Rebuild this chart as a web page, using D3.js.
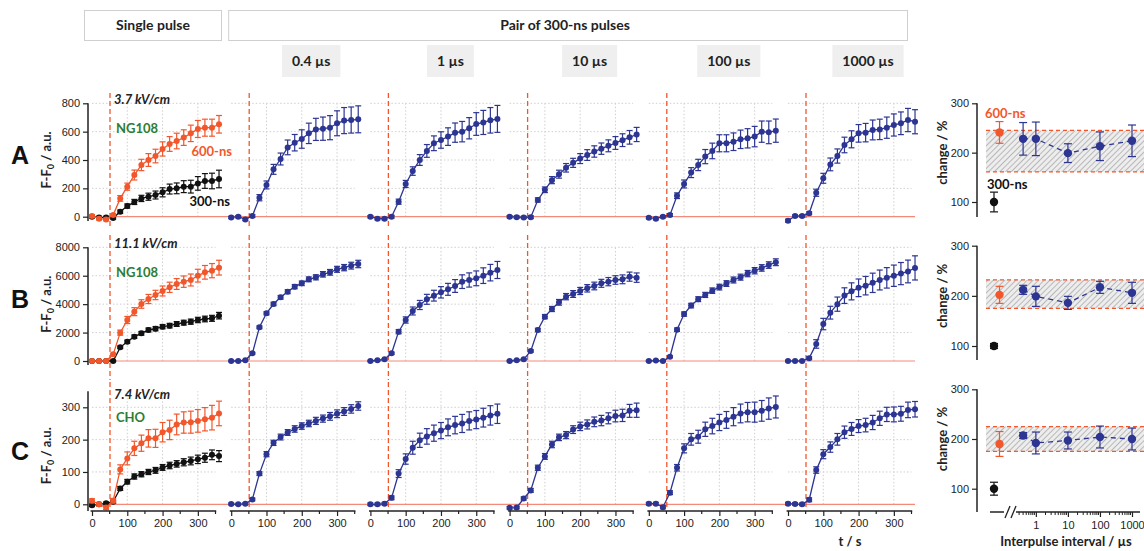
<!DOCTYPE html>
<html>
<head>
<meta charset="utf-8">
<script src="https://cdnjs.cloudflare.com/ajax/libs/d3/7.8.5/d3.min.js"></script>
<style>
  body { margin: 0; background: #fff; }
  svg { display: block; }
  .tick text { font-family: "Liberation Sans", Arial, sans-serif; font-size: 11px; fill: #222; }
</style>
</head>
<body>
<div id="chart"></div>
<script>
var width = 1144, height = 551;

// ---- data ----
var times = [0,20,40,60,80,100,120,140,160,180,200,220,240,260,280,300,320,340,360];
var intervalNames = ["0.4 µs","1 µs","10 µs","100 µs","1000 µs"];
var intervalValues = [0.4,1,10,100,1000];
var singleNames = ["300-ns","600-ns"];

// row A : NG108, 3.7 kV/cm
var a300 = [0,-5,-5,-9,35,75,104,129,141,153,172,195,200,212,212,235,252,252,266];
var a300Err = [8,8,8,8,12,15,18,22,25,28,32,35,38,42,45,48,52,55,62];
var a600 = [5,-14,-19,12,129,212,294,365,400,428,478,513,534,558,588,619,628,628,652];
var a600Err = [10,10,10,10,20,25,35,40,45,48,50,52,55,55,58,60,60,60,62];
var aPairs = [
  [-5,0,-19,5,134,224,334,407,489,522,548,588,616,621,628,659,678,682,687],
  [0,-14,-14,0,106,231,322,400,464,518,541,565,593,600,624,654,665,680,690],
  [0,-3,-5,-3,118,190,258,300,345,380,410,435,460,480,500,520,540,560,580],
  [-7,-14,0,12,148,231,311,365,424,464,518,518,529,546,553,565,600,595,607],
  [-28,5,5,24,169,271,369,428,506,546,588,593,612,616,628,647,659,682,670]
];
var aPairsErr = [
  [8,8,8,10,22,28,35,42,52,58,65,72,78,82,85,88,92,92,95],
  [8,8,8,10,18,25,30,38,45,52,58,62,68,72,75,80,85,90,95],
  [8,8,8,10,15,20,25,28,30,32,35,38,40,40,42,45,45,48,50],
  [8,8,8,10,20,28,35,40,50,55,60,60,62,65,68,72,75,80,82],
  [10,8,8,10,25,35,45,50,55,60,62,65,70,72,75,78,80,82,85]
];
var aSingle = [100,241], aSingleErr = [20,22];
var aChange = [228,228,199,213,224], aChangeErr = [33,34,19,29,32];
var aBand = [161,245];

// row B : NG108, 11.1 kV/cm
var b300 = [0,0,0,0,962,1360,1712,1947,2182,2275,2416,2487,2604,2698,2768,2885,2956,3003,3190];
var b300Err = [50,50,50,50,90,110,120,130,140,150,150,160,170,170,180,190,200,210,230];
var b600 = [0,0,0,469,1994,2885,3472,4011,4363,4645,4926,5184,5419,5583,5700,6005,6240,6357,6568];
var b600Err = [60,60,60,80,180,250,280,300,320,330,350,360,380,400,420,450,480,500,520];
var bPairs = [
  [0,0,47,540,2369,3354,4011,4480,4879,5231,5466,5747,5888,6099,6240,6451,6568,6709,6826],
  [0,47,117,540,2064,2885,3519,3941,4340,4598,4832,5043,5278,5583,5700,5817,6005,6216,6404],
  [0,47,117,704,2182,3120,3659,4129,4527,4715,4926,5114,5278,5466,5583,5700,5747,5935,5865],
  [0,30,0,300,2200,3300,3900,4350,4650,4950,5200,5450,5700,5900,6150,6350,6550,6750,6950],
  [0,0,0,200,1200,2600,3400,4000,4600,4900,5150,5300,5500,5700,5850,6000,6150,6300,6550]
];
var bPairsErr = [
  [50,50,50,60,100,110,120,130,140,150,160,170,180,190,200,210,220,240,260],
  [50,50,50,80,150,220,280,320,350,380,400,420,450,480,500,520,550,580,600],
  [50,50,50,80,120,150,180,200,220,240,250,260,270,280,290,300,310,320,330],
  [50,50,50,60,120,150,160,170,180,190,200,200,210,210,220,220,230,230,240],
  [50,50,50,100,300,400,450,500,550,600,620,650,680,700,720,750,780,800,850]
];
var bSingle = [100,202], bSingleErr = [5,17];
var bChange = [212,199,186,217,206], bChangeErr = [9,20,13,12,21];
var bBand = [175,232];

// row C : CHO, 7.4 kV/cm
var c300 = [-3,0,3,8,49,70,86,93,100,105,114,120,125,130,134,139,144,153,149];
var c300Err = [4,4,4,5,6,7,8,8,8,9,9,10,10,11,12,13,14,15,17];
var c600 = [11,0,-10,11,108,142,173,189,204,204,223,230,247,253,254,258,263,268,281];
var c600Err = [6,6,6,7,14,20,22,25,27,28,30,30,32,33,34,35,36,38,38];
var cPairs = [
  [1,0,2,15,95,155,190,208,222,233,242,250,258,265,272,280,287,295,304],
  [0,0,2,20,95,140,175,198,210,220,228,238,245,250,258,262,268,275,280],
  [-11,-10,18,43,113,148,185,207,214,231,241,247,255,259,266,273,275,289,291],
  [2,2,-9,36,113,173,201,209,232,242,253,261,271,281,285,285,289,296,301],
  [2,1,0,14,106,155,177,201,223,233,242,245,253,266,278,278,280,292,294]
];
var cPairsErr = [
  [3,3,3,4,6,8,8,9,9,10,10,10,11,11,12,12,12,13,13],
  [4,4,4,6,12,16,20,22,24,25,25,26,27,28,28,28,29,30,30],
  [4,4,5,6,8,9,10,10,11,12,13,14,15,16,17,18,19,20,22],
  [4,4,5,6,10,14,18,20,22,24,25,26,28,29,30,31,32,33,34],
  [4,4,4,6,10,14,16,18,19,20,20,21,22,22,22,23,23,24,24]
];
var cSingle = [100,190], cSingleErr = [13,25];
var cChange = [207,192,197,204,200], cChangeErr = [6,22,17,22,22];
var cBand = [175,225];

var pulseTime = 51;

// ---- colours ----
var orange = "#f2572b", blue = "#2c3592", black = "#111", green = "#2f7d32";
var zeroRed = "#f4897a";
var labelFont = "Lato, 'Open Sans', sans-serif";

var rows = [
  { name: "A", field: "3.7 kV/cm", cell: "NG108", yMax: 800, yTop: 800, yTicks: [0,200,400,600,800],
    s300: a300, e300: a300Err, s600: a600, e600: a600Err, pairs: aPairs, pairsErr: aPairsErr,
    single: aSingle, singleErr: aSingleErr, change: aChange, changeErr: aChangeErr, band: aBand,
    zero: 216.7, top: 103.3, axisBottom: 221, dashTop: 93, dashBottom: 228,
    r100: 202, r300: 103.3, rBottom: 217 },
  { name: "B", field: "11.1 kV/cm", cell: "NG108", yMax: 8000, yTop: 8000, yTicks: [0,2000,4000,6000,8000],
    s300: b300, e300: b300Err, s600: b600, e600: b600Err, pairs: bPairs, pairsErr: bPairsErr,
    single: bSingle, singleErr: bSingleErr, change: bChange, changeErr: bChangeErr, band: bBand,
    zero: 361, top: 247.3, axisBottom: 365, dashTop: 235, dashBottom: 380,
    r100: 346, r300: 245.7, rBottom: 360 },
  { name: "C", field: "7.4 kV/cm", cell: "CHO", yMax: 300, yTop: 350, yTicks: [0,100,200,300],
    s300: c300, e300: c300Err, s600: c600, e600: c600Err, pairs: cPairs, pairsErr: cPairsErr,
    single: cSingle, singleErr: cSingleErr, change: cChange, changeErr: cChangeErr, band: cBand,
    zero: 504.3, top: 407.3, axisBottom: 511, dashTop: 382, dashBottom: 509,
    r100: 488.7, r300: 389.3, rBottom: 512 }
];

// column positions (t = 0 of each small panel)
var colScale = d3.scaleLinear().domain([0,5]).range([92,788]);
var panelW = 123.5; // 0..350 s

var svg = d3.select("#chart").append("svg")
    .attr("width", width)
    .attr("height", height)
    .style("font-family", labelFont);

var defs = svg.append("defs");
var pat = defs.append("pattern")
    .attr("id", "hatch")
    .attr("patternUnits", "userSpaceOnUse")
    .attr("width", 4).attr("height", 4)
    .attr("patternTransform", "rotate(45)");
pat.append("rect").attr("width", 4).attr("height", 4).attr("fill", "#ededed");
pat.append("line").attr("x1", 0).attr("y1", 0).attr("x2", 0).attr("y2", 4)
    .attr("stroke", "#8c8c8c").attr("stroke-width", 1.1);

// ---- headers ----
var head = svg.append("g");
head.append("rect")
    .attr("x", colScale(0) - 7.5).attr("y", 10.5)
    .attr("width", 137).attr("height", 30)
    .attr("fill", "#fff").attr("stroke", "#cfcfcf");
head.append("text")
    .attr("x", colScale(0) + 61).attr("y", 30)
    .attr("text-anchor", "middle")
    .attr("font-weight", "bold").attr("font-size", 14).attr("fill", "#222")
    .text("Single pulse");
head.append("rect")
    .attr("x", colScale(1) - 2.5).attr("y", 10.5)
    .attr("width", colScale(5) + 122 - colScale(1)).attr("height", 30)
    .attr("fill", "#fff").attr("stroke", "#cfcfcf");
head.append("text")
    .attr("x", 565).attr("y", 30)
    .attr("text-anchor", "middle")
    .attr("font-weight", "bold").attr("font-size", 14).attr("fill", "#222")
    .text("Pair of 300-ns pulses");

intervalNames.forEach(function (name, i) {
  var cx = colScale(i + 1) + 80;
  var gg = head.append("g");
  var txt = gg.append("text")
      .attr("x", cx).attr("y", 66)
      .attr("text-anchor", "middle")
      .attr("font-weight", "bold").attr("font-size", 14).attr("fill", "#222")
      .text(name);
  var w = txt.node().getComputedTextLength() + 20;
  gg.insert("rect", "text")
      .attr("x", cx - w / 2).attr("y", 45)
      .attr("width", w).attr("height", 32)
      .attr("fill", "#efefef");
});

// ---- helpers ----
function drawSeries(g, x, y, xs, vals, errs, color, r, cap, dashed) {
  var pts = xs.map(function (t, i) { return { t: t, v: vals[i], e: errs[i] }; });
  g.append("path").datum(pts)
      .attr("fill", "none")
      .attr("stroke", color)
      .attr("stroke-width", 1.3)
      .attr("stroke-dasharray", dashed ? "5,4" : null)
      .attr("d", d3.line().x(function (d) { return x(d.t); }).y(function (d) { return y(d.v); }));
  var eb = g.append("g").attr("stroke", color).attr("stroke-width", 1.2);
  eb.selectAll(".v").data(pts).enter().append("line")
      .attr("x1", function (d) { return x(d.t); })
      .attr("x2", function (d) { return x(d.t); })
      .attr("y1", function (d) { return y(d.v - d.e); })
      .attr("y2", function (d) { return y(d.v + d.e); });
  [-1, 1].forEach(function (s) {
    eb.selectAll(".c" + (s + 1)).data(pts).enter().append("line")
        .attr("x1", function (d) { return x(d.t) - cap; })
        .attr("x2", function (d) { return x(d.t) + cap; })
        .attr("y1", function (d) { return y(d.v + s * d.e); })
        .attr("y2", function (d) { return y(d.v + s * d.e); });
  });
  g.append("g").selectAll("circle").data(pts).enter().append("circle")
      .attr("cx", function (d) { return x(d.t); })
      .attr("cy", function (d) { return y(d.v); })
      .attr("r", r)
      .attr("fill", color);
}

function boldText(g, x, y, txt, color, size, anchor, italic) {
  return g.append("text")
      .attr("x", x).attr("y", y)
      .attr("text-anchor", anchor || "start")
      .attr("font-weight", "bold")
      .attr("font-style", italic ? "italic" : null)
      .attr("font-size", size)
      .attr("fill", color)
      .text(txt);
}

// ---- rows ----
rows.forEach(function (row, ri) {
  var g = svg.append("g").attr("class", "row-" + row.name);
  var y = d3.scaleLinear().domain([0, row.yMax]).range([row.zero, row.top]);

  // grid + dashed pulse line for each small panel
  for (var c = 0; c < 6; c++) {
    var x = d3.scaleLinear().domain([0, 350]).range([colScale(c), colScale(c) + panelW]);
    var grid = g.append("g").attr("stroke", "#cfcfcf").attr("stroke-width", 1).attr("stroke-dasharray", "1.5,2");
    grid.selectAll(".h").data(row.yTicks.filter(function (v) { return v > 0; })).enter().append("line")
        .attr("x1", x(0)).attr("x2", x(350))
        .attr("y1", function (d) { return y(d); }).attr("y2", function (d) { return y(d); });
    grid.selectAll(".vv").data([100, 200, 300]).enter().append("line")
        .attr("x1", function (d) { return x(d); }).attr("x2", function (d) { return x(d); })
        .attr("y1", y(0)).attr("y2", y(row.yTop));
  }

  // red zero line through all panels
  var xFirst = d3.scaleLinear().domain([0, 350]).range([colScale(0), colScale(0) + panelW]);
  var xLast = d3.scaleLinear().domain([0, 350]).range([colScale(5), colScale(5) + panelW]);
  g.append("line")
      .attr("x1", xFirst(pulseTime)).attr("x2", xLast(360))
      .attr("y1", y(0)).attr("y2", y(0))
      .attr("stroke", zeroRed).attr("stroke-width", 1.2);

  for (var c2 = 0; c2 < 6; c2++) {
    var xx = d3.scaleLinear().domain([0, 350]).range([colScale(c2), colScale(c2) + panelW]);
    g.append("line")
        .attr("x1", xx(pulseTime)).attr("x2", xx(pulseTime))
        .attr("y1", row.dashTop).attr("y2", row.dashBottom)
        .attr("stroke", orange).attr("stroke-width", 1.3)
        .attr("stroke-dasharray", "5,3");

    if (c2 === 0) {
      drawSeries(g, xx, y, times, row.s300, row.e300, black, 3, 3);
      drawSeries(g, xx, y, times, row.s600, row.e600, orange, 3, 3);
    } else {
      drawSeries(g, xx, y, times, row.pairs[c2 - 1], row.pairsErr[c2 - 1], blue, 3, 3);
    }

    // bottom time axis only on the last row
    if (ri === 2) {
      var ax = g.append("g")
          .attr("transform", "translate(0," + row.axisBottom + ")")
          .call(d3.axisBottom(xx).tickValues([0, 100, 200, 300]).tickSize(5).tickPadding(3).tickSizeOuter(0));
      ax.select(".domain").remove();
      ax.selectAll(".tick line").attr("stroke", "#222").attr("stroke-width", 1.2);
      ax.append("line")
          .attr("x1", xx(-4)).attr("x2", xx(352))
          .attr("stroke", "#222").attr("stroke-width", 1.5);
      ax.selectAll(".minor").data([50, 150, 250, 350]).enter().append("line")
          .attr("x1", function (d) { return xx(d); }).attr("x2", function (d) { return xx(d); })
          .attr("y1", 0).attr("y2", 3)
          .attr("stroke", "#222").attr("stroke-width", 1.2);
    }
  }

  // left y-axis
  var ya = g.append("g")
      .attr("transform", "translate(" + (colScale(0) - 4) + ",0)")
      .call(d3.axisLeft(y).tickValues(row.yTicks).tickFormat(d3.format("d"))
          .tickSize(5).tickPadding(3).tickSizeOuter(0));
  ya.select(".domain").remove();
  ya.selectAll(".tick line").attr("stroke", "#222").attr("stroke-width", 1.2);
  ya.append("line")
      .attr("y1", y(row.yTop)).attr("y2", row.axisBottom)
      .attr("stroke", "#222").attr("stroke-width", 1.5);

  // y-axis title F-F0 / a.u.
  var yl = g.append("text")
      .attr("transform", "translate(51," + (row.zero + row.top) / 2 + ") rotate(-90)")
      .attr("text-anchor", "middle")
      .attr("font-weight", "bold").attr("font-size", 13).attr("fill", "#222");
  yl.append("tspan").text("F-F");
  yl.append("tspan").attr("font-size", 9).attr("dy", 3).text("0");
  yl.append("tspan").attr("dy", -3).text(" / a.u.");

  // row letter
  g.append("text")
      .attr("x", 20).attr("y", (row.zero + row.top) / 2 + 4)
      .attr("text-anchor", "middle")
      .attr("font-family", "'Liberation Sans', Arial, sans-serif")
      .attr("font-weight", "bold").attr("font-size", 25).attr("fill", "#111")
      .text(row.name);

  // annotations
  boldText(g, 114, row.top + (ri === 2 ? -8 : 1), row.field, "#222", 13, "start", true);
  boldText(g, 116, row.top + (ri === 2 ? 15 : 30), row.cell, green, 13, "start");
  if (ri === 0) {
    boldText(g, 232, 156, "600-ns", orange, 13, "end");
    boldText(g, 230, 206, "300-ns", black, 13, "end");
  }

  // ---- right panel: change / % ----
  var ry = d3.scaleLinear().domain([100, 300]).range([row.r100, row.r300]);
  var rx = d3.scaleLog().domain([0.24, 1000]).range([1016, 1132]);
  var sx = d3.scalePoint().domain(singleNames).range([994, 999.5]);

  g.append("rect")
      .attr("x", 986).attr("width", width - 986)
      .attr("y", ry(row.band[1])).attr("height", ry(row.band[0]) - ry(row.band[1]))
      .attr("fill", "url(#hatch)");
  g.selectAll(".bandline").data(row.band).enter().append("line")
      .attr("x1", 986).attr("x2", width)
      .attr("y1", function (d) { return ry(d); }).attr("y2", function (d) { return ry(d); })
      .attr("stroke", orange).attr("stroke-width", 1.2).attr("stroke-dasharray", "4,3");

  var rya = g.append("g")
      .attr("transform", "translate(977,0)")
      .call(d3.axisLeft(ry).tickValues([100, 200, 300]).tickSize(5).tickPadding(3).tickSizeOuter(0));
  rya.select(".domain").remove();
  rya.selectAll(".tick line").attr("stroke", "#222").attr("stroke-width", 1.2);
  rya.append("line")
      .attr("y1", ry(300)).attr("y2", row.rBottom)
      .attr("stroke", "#222").attr("stroke-width", 1.5);

  g.append("text")
      .attr("transform", "translate(947," + (row.r100 + row.r300) / 2 + ") rotate(-90)")
      .attr("text-anchor", "middle")
      .attr("font-weight", "bold").attr("font-size", 13).attr("fill", "#222")
      .text("change / %");

  drawSeries(g, rx, ry, intervalValues, row.change, row.changeErr, blue, 4.2, 4, true);
  [black, orange].forEach(function (col, k) {
    var sg = g.append("g");
    drawSeries(sg, function () { return sx(singleNames[k]); }, ry,
        [singleNames[k]], [row.single[k]], [row.singleErr[k]], col, 4.2, 4);
  });

  if (ri === 0) {
    boldText(g, 985, 118, "600-ns", orange, 13, "start");
    boldText(g, 987, 189, "300-ns", black, 13, "start");
  }

  if (ri === 2) {
    var rax = g.append("g")
        .attr("transform", "translate(0," + row.rBottom + ")");
    rax.call(d3.axisBottom(rx).tickValues([1, 10, 100, 1000]).tickFormat(d3.format("d"))
        .tickSize(5).tickPadding(4).tickSizeOuter(0));
    rax.select(".domain").remove();
    rax.selectAll(".tick line").attr("stroke", "#222").attr("stroke-width", 1.2);
    var minors = rx.ticks().filter(function (d) { return [1, 10, 100, 1000].indexOf(d) < 0 && d >= 0.3; });
    rax.selectAll(".minor").data(minors).enter().append("line")
        .attr("x1", function (d) { return rx(d); }).attr("x2", function (d) { return rx(d); })
        .attr("y1", 0).attr("y2", 3)
        .attr("stroke", "#222").attr("stroke-width", 1);
    rax.append("line").attr("x1", 990).attr("x2", 1004).attr("stroke", "#222").attr("stroke-width", 1.5);
    rax.append("line").attr("x1", 1016).attr("x2", 1140).attr("stroke", "#222").attr("stroke-width", 1.5);
    [1005, 1011].forEach(function (bx) {
      rax.append("line")
          .attr("x1", bx).attr("y1", 6).attr("x2", bx + 5).attr("y2", -6)
          .attr("stroke", "#222").attr("stroke-width", 1.3);
    });
  }
});

// axis titles
boldText(svg, 850, 546, "t / s", "#222", 13, "middle");
boldText(svg, 1066, 546, "Interpulse interval / µs", "#222", 13, "middle");
</script>
</body>
</html>
